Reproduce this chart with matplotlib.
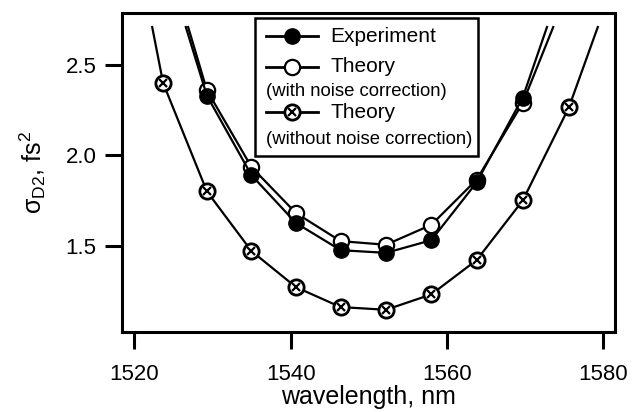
import matplotlib
matplotlib.use("Agg")
import matplotlib.pyplot as plt
from matplotlib.lines import Line2D
from matplotlib.patches import Rectangle

plt.rcParams['font.family'] = ['Liberation Sans', 'DejaVu Sans']
plt.rcParams['mathtext.fontset'] = 'custom'
plt.rcParams['mathtext.rm'] = 'Liberation Sans'
plt.rcParams['mathtext.it'] = 'Liberation Sans'
plt.rcParams['mathtext.bf'] = 'Liberation Sans:bold'

# wavelengths (nm) of the measured / computed points
wl_all = [1523.7, 1529.3, 1535.0, 1540.7, 1546.4, 1552.2, 1558.0, 1563.8, 1569.7, 1575.6]
wl = [1529.3, 1535.0, 1540.7, 1546.4, 1552.2, 1558.0, 1563.8, 1569.7]

experiment = [2.33, 1.89, 1.625, 1.475, 1.46, 1.53, 1.85, 2.32]
theory_nc = [2.36, 1.935, 1.68, 1.525, 1.505, 1.615, 1.865, 2.29]
theory_raw = [2.40, 1.80, 1.47, 1.27, 1.16, 1.145, 1.23, 1.42, 1.75, 2.265]

# where the curves leave the top of the drawn range
end_val = 2.71
exp_ends = [1526.6, 1572.8]
nc_ends = [1526.9, 1573.6]
raw_ends = [1522.3, 1579.3]

W, H = 633, 412
fig = plt.figure(figsize=(W / 100, H / 100), dpi=100)
ax = fig.add_axes([121.7 / W, 1 - 332 / H, (615 - 121.7) / W, (332 - 13.5) / H])

lw = 1.6
ms = 11

def curve(ends, xs, ys):
    return [ends[0]] + xs + [ends[1]], [end_val] + ys + [end_val]

x, y = curve(raw_ends, wl_all, theory_raw)
ax.plot(x, y, color='k', lw=lw, zorder=2)
ax.plot(wl_all, theory_raw, 'o', ms=ms, mfc='white', mec='k', mew=2.0, zorder=2.1)
ax.plot(wl_all, theory_raw, 'x', ms=6, mec='k', mew=1.6, zorder=2.2)

x, y = curve(nc_ends, wl, theory_nc)
ax.plot(x, y, color='k', lw=lw, zorder=3)
ax.plot(wl, theory_nc, 'o', ms=ms, mfc='white', mec='k', mew=1.6, zorder=3.1)

x, y = curve(exp_ends, wl, experiment)
ax.plot(x, y, color='k', lw=lw, zorder=4)
ax.plot(wl, experiment, 'o', ms=ms, mfc='k', mec='k', zorder=4.1)

ax.set_xlim(1518.4, 1581.5)
ax.set_ylim(1.022, 2.785)
ax.set_xticks([1520, 1540, 1560, 1580])
ax.set_yticks([1.5, 2.0, 2.5])
ax.set_yticklabels(['1.5', '2.0', '2.5'])

for s in ax.spines.values():
    s.set_linewidth(2.2)
ax.tick_params(direction='out', length=12, width=2.2, labelsize=16)
ax.tick_params(axis='y', pad=6)
ax.tick_params(axis='x', pad=11)

ax.set_xlabel('wavelength, nm', fontsize=18, labelpad=0)
ax.set_ylabel(r'$\sigma_{\mathrm{D2}}$, fs$^2$', fontsize=18)
ax.yaxis.set_label_coords(48 / W, 1 - 173 / H, transform=fig.transFigure)

# legend drawn by hand (pixel layout)
def fx(px):
    return px / W

def fy(py):
    return 1 - py / H

box = Rectangle((fx(255), fy(156)), fx(478) - fx(255), fy(18) - fy(156),
                transform=fig.transFigure, fill=True, fc='white', ec='k', lw=1.8, zorder=10)
fig.add_artist(box)

rows = [
    (36, dict(marker='o', mfc='k', mec='k'), 'Experiment'),
    (67, dict(marker='o', mfc='white', mec='k', mew=1.6), 'Theory'),
    (112, dict(marker='o', mfc='white', mec='k', mew=2.0), 'Theory'),
]
for py, mk, label in rows:
    fig.add_artist(Line2D([fx(266), fx(292), fx(318)], [fy(py)] * 3, color='k', lw=2.0,
                          ms=ms, markevery=[1], transform=fig.transFigure, zorder=11, **mk))
    fig.text(fx(330), fy(py), label, fontsize=15, va='center', ha='left', zorder=12)
fig.add_artist(Line2D([fx(292)], [fy(112)], marker='x', ms=6, mec='k', mew=1.6,
                      ls='none', transform=fig.transFigure, zorder=12))

fig.text(fx(266), fy(92), '(with noise correction)', fontsize=13.3, va='center', ha='left', zorder=12)
fig.text(fx(266), fy(139), '(without noise correction)', fontsize=13.3, va='center', ha='left', zorder=12)

fig.savefig('out.png', dpi=100)
